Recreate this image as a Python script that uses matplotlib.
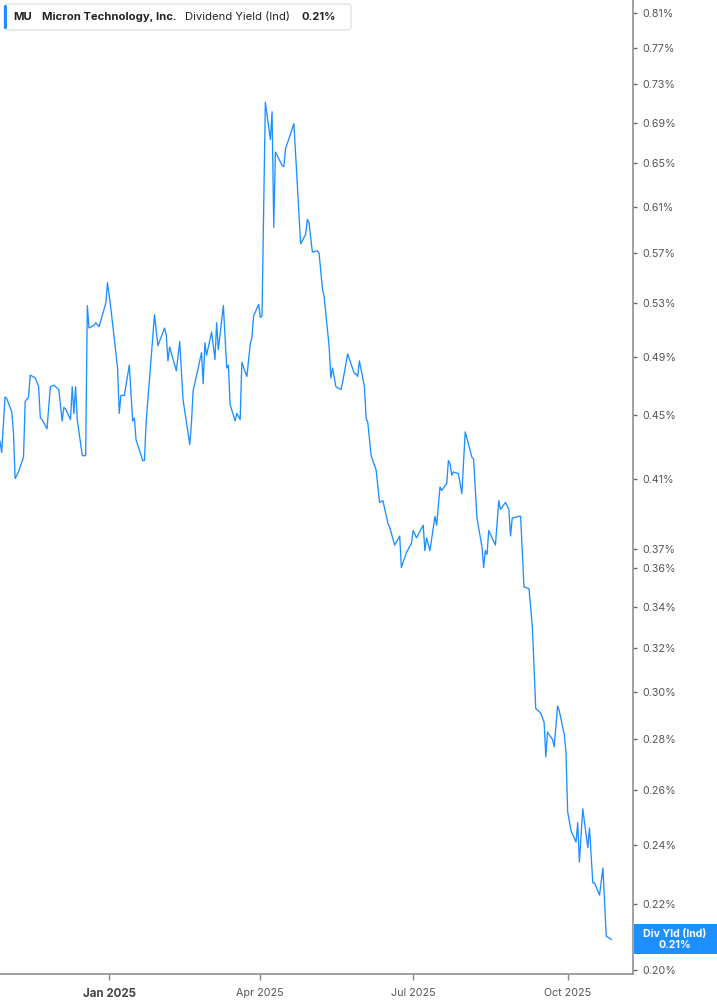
import matplotlib
matplotlib.use('Agg')
import matplotlib.pyplot as plt
import matplotlib.dates as mdates
from matplotlib.patches import FancyBboxPatch, Rectangle
from matplotlib.ticker import FixedLocator, NullLocator, FuncFormatter
from matplotlib.transforms import IdentityTransform
import pandas as pd

plt.rcParams['font.family'] = ['Inter', 'DejaVu Sans']

ticker = 'MU'
company = 'Micron Technology, Inc.'
metric = 'Dividend Yield (Ind)'
badge_name = 'Div Yld (Ind)'

dates = [
    '2024-10-28', '2024-10-29', '2024-10-31', '2024-11-01', '2024-11-04', '2024-11-05', '2024-11-06', '2024-11-08', '2024-11-11', '2024-11-12',
    '2024-11-14', '2024-11-15', '2024-11-18', '2024-11-20', '2024-11-21', '2024-11-22', '2024-11-25', '2024-11-27', '2024-11-29', '2024-12-02',
    '2024-12-04', '2024-12-05', '2024-12-06', '2024-12-09', '2024-12-10', '2024-12-11', '2024-12-12', '2024-12-13', '2024-12-16', '2024-12-18',
    '2024-12-19', '2024-12-20', '2024-12-23', '2024-12-24', '2024-12-26', '2024-12-30', '2024-12-31', '2025-01-02', '2025-01-06', '2025-01-07',
    '2025-01-08', '2025-01-10', '2025-01-13', '2025-01-15', '2025-01-16', '2025-01-17', '2025-01-21', '2025-01-22', '2025-01-23', '2025-01-28',
    '2025-01-30', '2025-02-03', '2025-02-04', '2025-02-05', '2025-02-06', '2025-02-10', '2025-02-12', '2025-02-14', '2025-02-18', '2025-02-19',
    '2025-02-20', '2025-02-25', '2025-02-26', '2025-02-27', '2025-02-28', '2025-03-03', '2025-03-05', '2025-03-06', '2025-03-07', '2025-03-10',
    '2025-03-12', '2025-03-13', '2025-03-14', '2025-03-17', '2025-03-18', '2025-03-20', '2025-03-21', '2025-03-24', '2025-03-26', '2025-03-27',
    '2025-03-28', '2025-03-31', '2025-04-01', '2025-04-02', '2025-04-04', '2025-04-07', '2025-04-08', '2025-04-09', '2025-04-10', '2025-04-14',
    '2025-04-15', '2025-04-16', '2025-04-21', '2025-04-25', '2025-04-28', '2025-04-29', '2025-04-30', '2025-05-02', '2025-05-05', '2025-05-06',
    '2025-05-08', '2025-05-09', '2025-05-12', '2025-05-13', '2025-05-14', '2025-05-16', '2025-05-19', '2025-05-20', '2025-05-23', '2025-05-27',
    '2025-05-28', '2025-05-29', '2025-05-30', '2025-06-02', '2025-06-03', '2025-06-04', '2025-06-06', '2025-06-09', '2025-06-11', '2025-06-13',
    '2025-06-16', '2025-06-17', '2025-06-20', '2025-06-23', '2025-06-24', '2025-06-27', '2025-06-30', '2025-07-01', '2025-07-03', '2025-07-07',
    '2025-07-08', '2025-07-09', '2025-07-11', '2025-07-14', '2025-07-15', '2025-07-17', '2025-07-18', '2025-07-21', '2025-07-22', '2025-07-23',
    '2025-07-24', '2025-07-25', '2025-07-28', '2025-07-30', '2025-08-01', '2025-08-05', '2025-08-06', '2025-08-08', '2025-08-11', '2025-08-12',
    '2025-08-13', '2025-08-14', '2025-08-15', '2025-08-19', '2025-08-21', '2025-08-22', '2025-08-25', '2025-08-27', '2025-08-28', '2025-08-29',
    '2025-09-02', '2025-09-03', '2025-09-05', '2025-09-08', '2025-09-10', '2025-09-12', '2025-09-15', '2025-09-17', '2025-09-18', '2025-09-19',
    '2025-09-22', '2025-09-23', '2025-09-25', '2025-09-26', '2025-09-29', '2025-09-30', '2025-10-01', '2025-10-03', '2025-10-06', '2025-10-07',
    '2025-10-08', '2025-10-10', '2025-10-13', '2025-10-14', '2025-10-16', '2025-10-17', '2025-10-20', '2025-10-22', '2025-10-24', '2025-10-27',
]

# dividend yield in percent
div_yield = [
    0.433, 0.426, 0.462, 0.461, 0.452, 0.439, 0.410, 0.414, 0.423, 0.459,
    0.462, 0.477, 0.475, 0.469, 0.448, 0.447, 0.441, 0.469, 0.470, 0.467,
    0.446, 0.455, 0.454, 0.447, 0.469, 0.451, 0.469, 0.447, 0.424, 0.424,
    0.528, 0.511, 0.513, 0.515, 0.512, 0.530, 0.546, 0.526, 0.482, 0.451,
    0.463, 0.463, 0.484, 0.446, 0.448, 0.434, 0.421, 0.421, 0.445, 0.521,
    0.498, 0.511, 0.506, 0.487, 0.497, 0.480, 0.501, 0.460, 0.431, 0.445,
    0.466, 0.493, 0.471, 0.500, 0.491, 0.508, 0.488, 0.515, 0.495, 0.528,
    0.482, 0.484, 0.457, 0.446, 0.451, 0.447, 0.486, 0.476, 0.499, 0.504,
    0.520, 0.529, 0.519, 0.520, 0.711, 0.673, 0.701, 0.592, 0.661, 0.648,
    0.647, 0.664, 0.689, 0.578, 0.586, 0.599, 0.596, 0.571, 0.572, 0.570,
    0.541, 0.535, 0.497, 0.475, 0.482, 0.469, 0.467, 0.472, 0.492, 0.478,
    0.478, 0.476, 0.487, 0.469, 0.448, 0.445, 0.424, 0.415, 0.396, 0.397,
    0.384, 0.382, 0.372, 0.377, 0.360, 0.368, 0.373, 0.380, 0.376, 0.383,
    0.369, 0.376, 0.369, 0.388, 0.383, 0.405, 0.403, 0.407, 0.421, 0.419,
    0.412, 0.414, 0.413, 0.401, 0.439, 0.423, 0.422, 0.387, 0.371, 0.360,
    0.369, 0.367, 0.380, 0.372, 0.397, 0.392, 0.396, 0.392, 0.377, 0.387,
    0.388, 0.388, 0.350, 0.349, 0.330, 0.293, 0.291, 0.287, 0.273, 0.283,
    0.280, 0.277, 0.294, 0.292, 0.282, 0.275, 0.252, 0.245, 0.241, 0.248,
    0.234, 0.253, 0.239, 0.246, 0.227, 0.227, 0.223, 0.232, 0.210, 0.209,
]

y_ticks = [0.20, 0.22, 0.24, 0.26, 0.28, 0.30, 0.32, 0.34, 0.36, 0.37,
           0.41, 0.45, 0.49, 0.53, 0.57, 0.61, 0.65, 0.69, 0.73, 0.77, 0.81]
x_ticks = ['2025-01-01', '2025-04-01', '2025-07-01', '2025-10-01']

BLUE = '#1e8fff'
W, H = 717, 1005

dt = pd.to_datetime(dates)

fig = plt.figure(figsize=(W / 100, H / 100), dpi=100)
ax = fig.add_axes([0, 31 / H, 633 / W, 974 / H])

ax.plot(dt, div_yield, color=BLUE, lw=0.95)

ax.set_yscale('log')
ax.set_ylim(0.1987, 0.8255)
ax.set_xlim(pd.Timestamp('2024-10-28'), pd.Timestamp('2025-11-08 22:00'))

ax.yaxis.set_major_locator(FixedLocator(y_ticks))
ax.yaxis.set_minor_locator(NullLocator())
ax.yaxis.set_major_formatter(FuncFormatter(lambda v, p: f'{v:.2f}%'))
ax.yaxis.tick_right()
ax.tick_params(axis='y', direction='out', length=3, width=1, color='#666',
               labelsize=7.7, labelcolor='#555', pad=4)

xt = pd.to_datetime(x_ticks)
ax.set_xticks(xt)
ax.set_xticklabels([d.strftime('%b %Y') for d in xt])
ax.tick_params(axis='x', direction='out', length=4, width=1, color='#888',
               labelsize=7.7, labelcolor='#555', pad=6)
ax.get_xticklabels()[0].set_fontweight('bold')
ax.get_xticklabels()[0].set_fontsize(8.3)
ax.get_xticklabels()[0].set_color('#444')

for s in ['left', 'top']:
    ax.spines[s].set_visible(False)
for s in ['right', 'bottom']:
    ax.spines[s].set_color('#999')
    ax.spines[s].set_linewidth(1.3)

ident = IdentityTransform()


def top(y):
    return H - y


# legend box at the top left
fig.add_artist(FancyBboxPatch((4, top(30)), 347, 26, boxstyle='round,pad=0,rounding_size=3',
                              transform=ident, facecolor='white', edgecolor='#e3e3e3', lw=1))
fig.add_artist(FancyBboxPatch((4, top(29)), 3, 24, boxstyle='round,pad=0,rounding_size=1.5',
                              transform=ident, facecolor=BLUE, edgecolor='none'))
last = f'{div_yield[-1]:.2f}%'
fs = 8.1
fig.text(13, top(17), ticker, transform=ident, fontsize=fs, fontweight='bold', color='#222', va='center')
fig.text(42, top(17), company, transform=ident, fontsize=fs, fontweight='bold', color='#222', va='center')
fig.text(185, top(17), metric, transform=ident, fontsize=fs, color='#222', va='center')
fig.text(302, top(17), last, transform=ident, fontsize=fs, fontweight='bold', color='#222', va='center')

# badge with the latest value on the right axis
y_last = ax.transData.transform((mdates.date2num(dt[-1]), div_yield[-1]))[1]
fig.add_artist(Rectangle((634, y_last - 15), W - 634, 30, transform=ident,
                         facecolor=BLUE, edgecolor='none'))
fig.text(675, y_last, badge_name + '\n' + last, transform=ident, fontsize=7.6,
         fontweight='bold', color='white', ha='center', va='center', linespacing=1.05)

fig.savefig('out.png', dpi=100)
